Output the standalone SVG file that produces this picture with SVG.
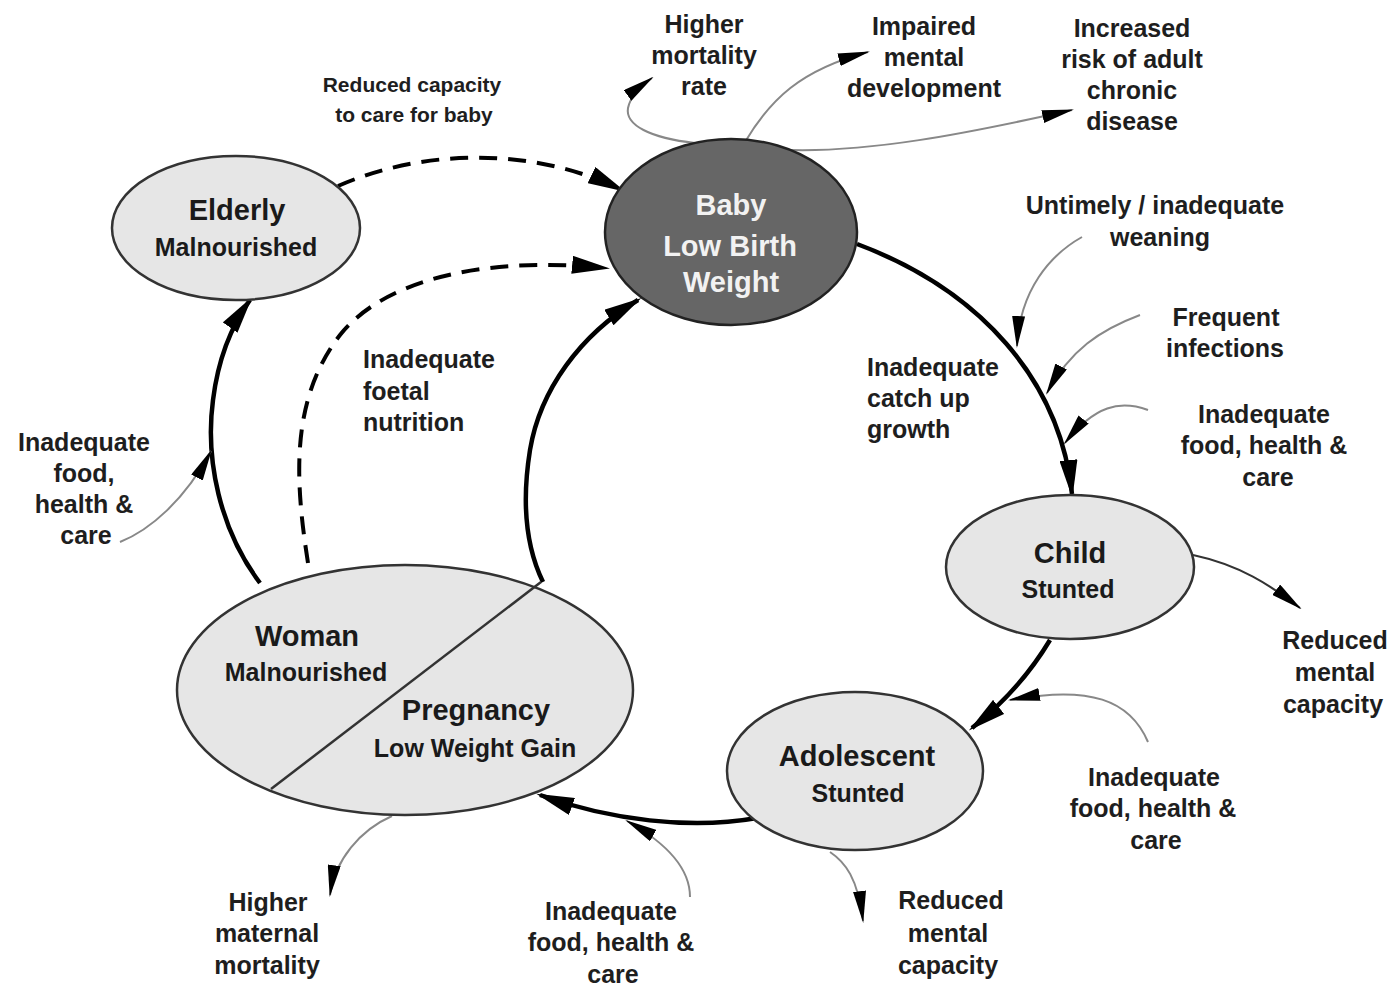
<svg xmlns="http://www.w3.org/2000/svg" width="1397" height="987" viewBox="0 0 1397 987">
  <style>
    .node { fill: #e6e6e6; stroke: #333; stroke-width: 2.5; }
    .dark { fill: #666; stroke: #222; stroke-width: 2.5; }
    .title { font-family: "Liberation Sans", Arial, sans-serif; font-weight: bold; font-size: 29px; fill: #1a1a1a; text-anchor: middle; }
    .sub { font-family: "Liberation Sans", Arial, sans-serif; font-weight: bold; font-size: 25px; fill: #1a1a1a; text-anchor: middle; }
    .white { fill: #f2f2f2; }
    .lbl { font-family: "Liberation Sans", Arial, sans-serif; font-weight: bold; font-size: 25px; fill: #1e1e1e; text-anchor: middle; }
    .lbl-l { text-anchor: start; }
    .small { font-size: 21px; }
    .main { fill: none; stroke: #000; stroke-width: 4.5; }
    .dash { fill: none; stroke: #000; stroke-width: 4; stroke-dasharray: 18 11; }
    .thin { fill: none; stroke: #888; stroke-width: 2; }
    .thin-dark { fill: none; stroke: #333; stroke-width: 2; }
  </style>
  <defs>
    <marker id="big" viewBox="0 0 38 18" refX="34" refY="9" markerWidth="38" markerHeight="18" markerUnits="userSpaceOnUse" orient="auto">
      <path d="M0,0 L38,9 L0,18 Z" fill="#000"/>
    </marker>
    <marker id="small" viewBox="0 0 32 13" refX="30" refY="6.5" markerWidth="32" markerHeight="13" markerUnits="userSpaceOnUse" orient="auto">
      <path d="M0,0 L32,6.5 L0,13 Z" fill="#000"/>
    </marker>
  </defs>

  <!-- connectors -->
  <g id="connectors">
    <!-- main cycle -->
    <path class="main" d="M857,244 C980,290 1060,380 1072,494" marker-end="url(#big)"/>
    <path class="main" d="M1050,640 Q1020,690 972,728" stroke-width="5" marker-end="url(#big)"/>
    <path class="main" d="M757,818 C690,830 610,820 540,795" stroke-width="6.5" marker-end="url(#big)"/>
    <path class="main" d="M543,582 C525,545 522,500 530,450 C540,390 580,335 638,300" marker-end="url(#big)"/>
    <path class="main" d="M260,583 C220,530 205,460 213,400 C218,360 232,325 250,300" marker-end="url(#big)"/>
    <!-- dashed links to baby -->
    <path class="dash" d="M338,186 C420,150 530,145 622,190" marker-end="url(#big)"/>
    <path class="dash" d="M308,563 C295,480 290,400 340,335 C380,285 470,255 606,268" marker-end="url(#big)"/>
    <!-- outcomes from baby -->
    <path class="thin" d="M695,143 C650,138 625,125 628,108 C630,98 638,88 652,78" marker-end="url(#small)"/>
    <path class="thin" d="M745,142 C770,100 800,70 868,52" marker-end="url(#small)"/>
    <path class="thin" d="M790,150 C870,152 960,135 1072,110" marker-end="url(#small)"/>
    <!-- factors on baby to child -->
    <path class="thin" d="M1082,237 C1050,255 1020,290 1017,346" marker-end="url(#small)"/>
    <path class="thin" d="M1140,315 C1100,330 1070,350 1047,393" marker-end="url(#small)"/>
    <path class="thin" d="M1148,410 C1120,400 1095,405 1065,443" marker-end="url(#small)"/>
    <!-- child outcome -->
    <path class="thin-dark" d="M1193,555 C1240,565 1270,585 1300,608" marker-end="url(#small)"/>
    <!-- factor on child to adolescent -->
    <path class="thin" d="M1148,742 C1130,700 1090,685 1010,700" marker-end="url(#small)"/>
    <!-- adolescent outcome -->
    <path class="thin" d="M830,852 C845,862 858,878 863,921" marker-end="url(#small)"/>
    <!-- woman outcome -->
    <path class="thin" d="M392,816 C360,830 335,860 330,895" marker-end="url(#small)"/>
    <!-- factor on adolescent to woman -->
    <path class="thin" d="M690,897 C690,870 670,845 627,821" marker-end="url(#small)"/>
    <!-- factor on woman to elderly -->
    <path class="thin" d="M120,542 C150,530 185,500 211,451" marker-end="url(#small)"/>
  </g>

  <!-- nodes -->
  <g id="elderly">
    <ellipse class="node" cx="236" cy="228" rx="124" ry="72"/>
    <text class="title" x="237" y="220">Elderly</text>
    <text class="sub" x="236" y="256">Malnourished</text>
  </g>
  <g id="baby">
    <ellipse class="dark" cx="731" cy="232" rx="126" ry="93"/>
    <text class="title white" x="731" y="215" font-size="34">Baby</text>
    <text class="title white" x="730" y="256">Low Birth</text>
    <text class="title white" x="731" y="292">Weight</text>
  </g>
  <g id="child">
    <ellipse class="node" cx="1070" cy="567" rx="124" ry="72"/>
    <text class="title" x="1070" y="563">Child</text>
    <text class="sub" x="1068" y="598">Stunted</text>
  </g>
  <g id="adolescent">
    <ellipse class="node" cx="855" cy="771" rx="128" ry="79"/>
    <text class="title" x="857" y="766">Adolescent</text>
    <text class="sub" x="858" y="802">Stunted</text>
  </g>
  <g id="woman">
    <ellipse class="node" cx="405" cy="690" rx="228" ry="125"/>
    <line x1="271" y1="789" x2="541" y2="582" stroke="#333" stroke-width="2.5"/>
    <text class="title" x="307" y="646">Woman</text>
    <text class="sub" x="306" y="681">Malnourished</text>
    <text class="title" x="476" y="720">Pregnancy</text>
    <text class="sub" x="475" y="757">Low Weight Gain</text>
  </g>

  <!-- labels -->
  <g id="labels">
    <text class="lbl small" x="412" y="92">Reduced capacity</text>
    <text class="lbl small" x="414" y="122">to care for baby</text>

    <text class="lbl" x="704" y="33">Higher</text>
    <text class="lbl" x="704" y="64">mortality</text>
    <text class="lbl" x="704" y="95">rate</text>

    <text class="lbl" x="924" y="35">Impaired</text>
    <text class="lbl" x="924" y="66">mental</text>
    <text class="lbl" x="924" y="97">development</text>

    <text class="lbl" x="1132" y="37">Increased</text>
    <text class="lbl" x="1132" y="68">risk of adult</text>
    <text class="lbl" x="1132" y="99">chronic</text>
    <text class="lbl" x="1132" y="130">disease</text>

    <text class="lbl" x="1155" y="214">Untimely / inadequate</text>
    <text class="lbl" x="1160" y="246">weaning</text>

    <text class="lbl" x="1226" y="326">Frequent</text>
    <text class="lbl" x="1225" y="357">infections</text>

    <text class="lbl lbl-l" x="867" y="376">Inadequate</text>
    <text class="lbl lbl-l" x="867" y="407">catch up</text>
    <text class="lbl lbl-l" x="867" y="438">growth</text>

    <text class="lbl" x="1264" y="423">Inadequate</text>
    <text class="lbl" x="1264" y="454">food, health &amp;</text>
    <text class="lbl" x="1268" y="486">care</text>

    <text class="lbl" x="1335" y="649">Reduced</text>
    <text class="lbl" x="1335" y="681">mental</text>
    <text class="lbl" x="1333" y="713">capacity</text>

    <text class="lbl" x="1154" y="786">Inadequate</text>
    <text class="lbl" x="1153" y="817">food, health &amp;</text>
    <text class="lbl" x="1156" y="849">care</text>

    <text class="lbl" x="951" y="909">Reduced</text>
    <text class="lbl" x="948" y="942">mental</text>
    <text class="lbl" x="948" y="974">capacity</text>

    <text class="lbl" x="611" y="920">Inadequate</text>
    <text class="lbl" x="611" y="951">food, health &amp;</text>
    <text class="lbl" x="613" y="983">care</text>

    <text class="lbl" x="268" y="911">Higher</text>
    <text class="lbl" x="267" y="942">maternal</text>
    <text class="lbl" x="267" y="974">mortality</text>

    <text class="lbl" x="84" y="451">Inadequate</text>
    <text class="lbl" x="84" y="482">food,</text>
    <text class="lbl" x="84" y="513">health &amp;</text>
    <text class="lbl" x="86" y="544">care</text>

    <text class="lbl lbl-l" x="363" y="368">Inadequate</text>
    <text class="lbl lbl-l" x="363" y="400">foetal</text>
    <text class="lbl lbl-l" x="363" y="431">nutrition</text>
  </g>
</svg>
